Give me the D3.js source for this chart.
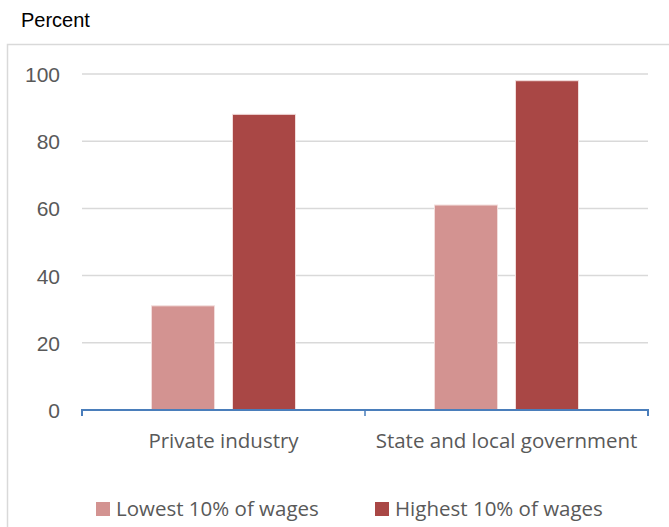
<!DOCTYPE html>
<html>
<head>
<meta charset="utf-8">
<script src="https://cdn.jsdelivr.net/npm/d3@7"></script>
<style>
  body { margin: 0; background: #fff; }
  svg { display: block; }
</style>
</head>
<body>
<svg id="chart"></svg>
<script>
// data
var categories = ["Private industry", "State and local government"];
var seriesNames = ["Lowest 10% of wages", "Highest 10% of wages"];
var lowest = [31, 61];
var highest = [88, 98];
var yTicks = [0, 20, 40, 60, 80, 100];

var w = 669, h = 527;
var colors = ["#d39391", "#a94745"];
var plotLeft = 82, plotRight = 648, plotTop = 74, plotBottom = 410;

var svg = d3.select("#chart").attr("width", w).attr("height", h);

// outer frame
svg.append("rect")
    .attr("x", 7.5).attr("y", 44.5)
    .attr("width", 670).attr("height", 500)
    .attr("fill", "none").attr("stroke", "#d9d9d9").attr("stroke-width", 1.5);

svg.append("text")
    .attr("x", 21).attr("y", 27)
    .style("font-family", "Liberation Sans, Arial, sans-serif")
    .style("font-size", "20px")
    .attr("fill", "#000")
    .text("Percent");

var y = d3.scaleLinear().domain([0, 100]).range([plotBottom, plotTop]);
var x0 = d3.scaleBand().domain(categories).range([plotLeft, plotRight]).padding(0);
var x1 = d3.scaleBand().domain(seriesNames).range([0, 144]).paddingInner(0.222).paddingOuter(0);
var groupOffset = (x0.bandwidth() - 144) / 2;

// gridlines
svg.append("g").selectAll("line")
    .data(yTicks.filter(function (d) { return d > 0; }))
    .enter().append("line")
    .attr("x1", plotLeft).attr("x2", plotRight)
    .attr("y1", function (d) { return y(d); })
    .attr("y2", function (d) { return y(d); })
    .attr("stroke", "#d9d9d9").attr("stroke-width", 1.5);

// y tick labels
svg.append("g").selectAll("text")
    .data(yTicks)
    .enter().append("text")
    .attr("x", 60)
    .attr("y", function (d) { return y(d) + 8; })
    .attr("text-anchor", "end")
    .style("font-family", "Liberation Sans, Arial, sans-serif")
    .style("font-size", "21px")
    .attr("fill", "#595959")
    .text(function (d) { return d; });

// bars
var rows = categories.map(function (c, i) {
    return { cat: c, values: [lowest[i], highest[i]] };
});
var groups = svg.append("g").selectAll("g")
    .data(rows)
    .enter().append("g")
    .attr("transform", function (d) { return "translate(" + (x0(d.cat) + groupOffset) + ",0)"; });

groups.selectAll("rect")
    .data(function (d) {
        return d.values.map(function (v, j) { return { name: seriesNames[j], value: v, j: j }; });
    })
    .enter().append("rect")
    .attr("x", function (d) { return x1(d.name); })
    .attr("width", x1.bandwidth())
    .attr("y", function (d) { return y(d.value); })
    .attr("height", function (d) { return plotBottom - y(d.value); })
    .attr("fill", function (d) { return colors[d.j]; })
    .attr("stroke", "#f2dcdb").attr("stroke-width", 1);

// x axis
var xAxis = d3.axisBottom(x0).tickSize(0).tickFormat("");
svg.append("g")
    .attr("transform", "translate(0," + plotBottom + ")")
    .call(xAxis)
    .call(function (g) {
        g.select(".domain").attr("stroke", "#4a7ebb").attr("stroke-width", 2)
            .attr("d", "M" + plotLeft + ",6V0H" + plotRight + "V6");
    });
var bounds = [plotLeft].concat(categories.map(function (c) { return x0(c) + x0.bandwidth(); }));
svg.append("g").selectAll("line")
    .data(bounds)
    .enter().append("line")
    .attr("x1", function (d) { return d; }).attr("x2", function (d) { return d; })
    .attr("y1", plotBottom).attr("y2", plotBottom + 6)
    .attr("stroke", "#4a7ebb").attr("stroke-width", 1.5);

svg.append("g").selectAll("text")
    .data(categories)
    .enter().append("text")
    .attr("x", function (d) { return x0(d) + x0.bandwidth() / 2; })
    .attr("y", 448)
    .attr("text-anchor", "middle")
    .style("font-family", "Open Sans, Noto Sans, sans-serif")
    .style("font-size", "20.5px")
    .attr("fill", "#595959")
    .text(function (d) { return d; });

// legend
var legendX = [96, 375];
var legend = svg.append("g").selectAll("g")
    .data(seriesNames)
    .enter().append("g")
    .attr("transform", function (d, i) { return "translate(" + legendX[i] + ",502)"; });
legend.append("rect")
    .attr("width", 14).attr("height", 14)
    .attr("fill", function (d, i) { return colors[i]; });
legend.append("text")
    .attr("x", 20).attr("y", 14)
    .style("font-family", "Open Sans, Noto Sans, sans-serif")
    .style("font-size", "20.5px")
    .attr("fill", "#595959")
    .text(function (d) { return d; });
</script>
</body>
</html>
